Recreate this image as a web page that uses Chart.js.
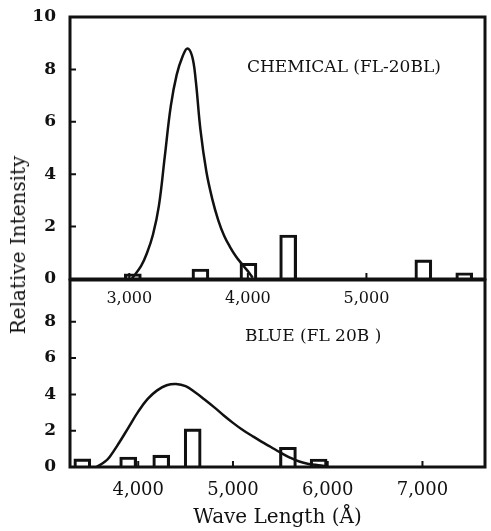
<!DOCTYPE html>
<html>
<head>
<meta charset="utf-8">
<script src="https://cdn.jsdelivr.net/npm/chart.js@4.4.1/dist/chart.umd.min.js"></script>
<style>
  body { margin: 0; background: #fff; }
  #wrap { position: relative; width: 491px; height: 531px; }
  canvas { position: absolute; left: 0; top: 0; }
  .lbl { position: absolute; font-family: "DejaVu Serif", serif; color: #111; white-space: nowrap; line-height: 1; }
  #yTitle { left: 18px; top: 245px; font-size: 20px; transform: translate(-50%, -50%) rotate(-90deg); }
</style>
</head>
<body>
<div id="wrap">
  <canvas id="chartBlue" width="491" height="531"></canvas>
  <canvas id="chartChem" width="491" height="310"></canvas>
  <div class="lbl" id="yTitle">Relative Intensity</div>
  <div class="lbl" style="left:247px; top:58px; font-size:17px;">CHEMICAL (FL-20BL)</div>
  <div class="lbl" style="left:245px; top:327px; font-size:17px;">BLUE (FL 20B )</div>
</div>
<script>
// CHEMICAL (FL-20BL) - upper panel
const chemCurveX = [3020, 3100, 3150, 3200, 3250, 3300, 3350, 3400, 3450, 3490, 3530, 3560, 3600, 3650, 3700, 3750, 3800, 3850, 3900, 3950, 4000, 4040];
const chemCurveY = [0, 0.5, 1.0, 1.7, 2.8, 4.7, 6.6, 7.8, 8.5, 8.8, 8.5, 7.6, 5.7, 4.1, 3.05, 2.25, 1.65, 1.22, 0.86, 0.57, 0.3, 0.05];
const chemLinesX = [3030, 3600, 4005, 4340, 5480, 5825];
const chemLinesY = [0.2, 0.38, 0.6, 1.68, 0.73, 0.24];
const chemXTicks = [3000, 4000, 5000];
const chemYTicks = [0, 2, 4, 6, 8, 10];

// BLUE (FL 20B) - lower panel
const blueCurveX = [3560, 3650, 3700, 3800, 3900, 4000, 4100, 4200, 4300, 4400, 4500, 4600, 4700, 4800, 4900, 5000, 5100, 5200, 5300, 5400, 5500, 5600, 5700, 5800, 5900, 6000];
const blueCurveY = [0, 0.3, 0.57, 1.35, 2.2, 3.05, 3.75, 4.22, 4.5, 4.57, 4.45, 4.12, 3.72, 3.3, 2.85, 2.43, 2.05, 1.72, 1.4, 1.1, 0.8, 0.52, 0.3, 0.17, 0.1, 0.04];
const blueLinesX = [3410, 3894, 4243, 4575, 5580, 5904];
const blueLinesY = [0.45, 0.55, 0.65, 2.1, 1.09, 0.44];
const blueXTicks = [4000, 5000, 6000, 7000];
const blueYTicks = [0, 2, 4, 6, 8];

const ink = '#111';
const serif = '"DejaVu Serif", serif';

const pts = (xs, ys) => xs.map((x, i) => ({ x: x, y: ys[i] }));

// box round the plot area + short inward tick marks
const frame = {
    id: 'frame',
    afterDatasetsDraw(chart) {
        const { ctx, chartArea: a, scales } = chart;
        ctx.save();
        ctx.strokeStyle = ink;
        ctx.lineWidth = 3;
        ctx.strokeRect(a.left, a.top, a.right - a.left, a.bottom - a.top);
        ctx.lineWidth = 2;
        ctx.beginPath();
        scales.y.ticks.forEach(t => {
            const y = scales.y.getPixelForValue(t.value);
            ctx.moveTo(a.left, y);
            ctx.lineTo(a.left + 6, y);
        });
        scales.x.ticks.forEach(t => {
            const x = scales.x.getPixelForValue(t.value);
            ctx.moveTo(x, a.bottom);
            ctx.lineTo(x, a.bottom - 6);
        });
        ctx.stroke();
        ctx.restore();
    }
};

function panel(id, o) {
    return new Chart(document.getElementById(id), {
        type: 'bar',
        data: {
            datasets: [{
                type: 'line',
                data: pts(o.curveX, o.curveY),
                borderColor: ink,
                borderWidth: 2.5,
                pointRadius: 0,
                tension: 0.4,
                fill: false
            }, {
                type: 'bar',
                data: pts(o.linesX, o.linesY),
                backgroundColor: 'rgba(0,0,0,0)',
                borderColor: ink,
                borderWidth: 2.5,
                borderSkipped: 'bottom',
                barThickness: 17
            }]
        },
        options: {
            responsive: false,
            animation: false,
            layout: { padding: { top: o.top, right: 6, left: 0, bottom: 0 } },
            plugins: { legend: { display: false }, tooltip: { enabled: false } },
            scales: {
                x: {
                    type: 'linear',
                    min: o.xMin, max: o.xMax,
                    offset: false,
                    grid: { display: false, offset: false },
                    border: { display: false },
                    afterBuildTicks: s => { s.ticks = o.xTicks.map(v => ({ value: v })); },
                    afterFit: s => { s.height = o.xHeight; },
                    ticks: {
                        color: ink, padding: o.xPad,
                        font: { family: serif, size: o.xFont },
                        callback: v => v.toLocaleString('en-US')
                    },
                    title: o.xTitle ? {
                        display: true, text: o.xTitle, color: ink,
                        font: { family: serif, size: 20 }, padding: { top: 0, bottom: 1 }
                    } : { display: false }
                },
                y: {
                    min: 0, max: o.yMax,
                    grid: { display: false },
                    border: { display: false },
                    afterBuildTicks: s => { s.ticks = o.yTicks.map(v => ({ value: v })); },
                    afterFit: s => { s.width = 70; },
                    ticks: { color: ink, padding: 6, font: { family: serif, size: 17, weight: 'bold' } }
                }
            }
        },
        plugins: [frame]
    });
}

panel('chartBlue', {
    curveX: blueCurveX, curveY: blueCurveY, linesX: blueLinesX, linesY: blueLinesY,
    xTicks: blueXTicks, yTicks: blueYTicks, xMin: 3280, xMax: 7660, yMax: 10.3,
    top: 280, xHeight: 64, xPad: 5, xFont: 18, xTitle: 'Wave Length (Å)'
});

panel('chartChem', {
    curveX: chemCurveX, curveY: chemCurveY, linesX: chemLinesX, linesY: chemLinesY,
    xTicks: chemXTicks, yTicks: chemYTicks, xMin: 2500, xMax: 6000, yMax: 10,
    top: 17, xHeight: 31, xPad: 2, xFont: 16
});
</script>
</body>
</html>
